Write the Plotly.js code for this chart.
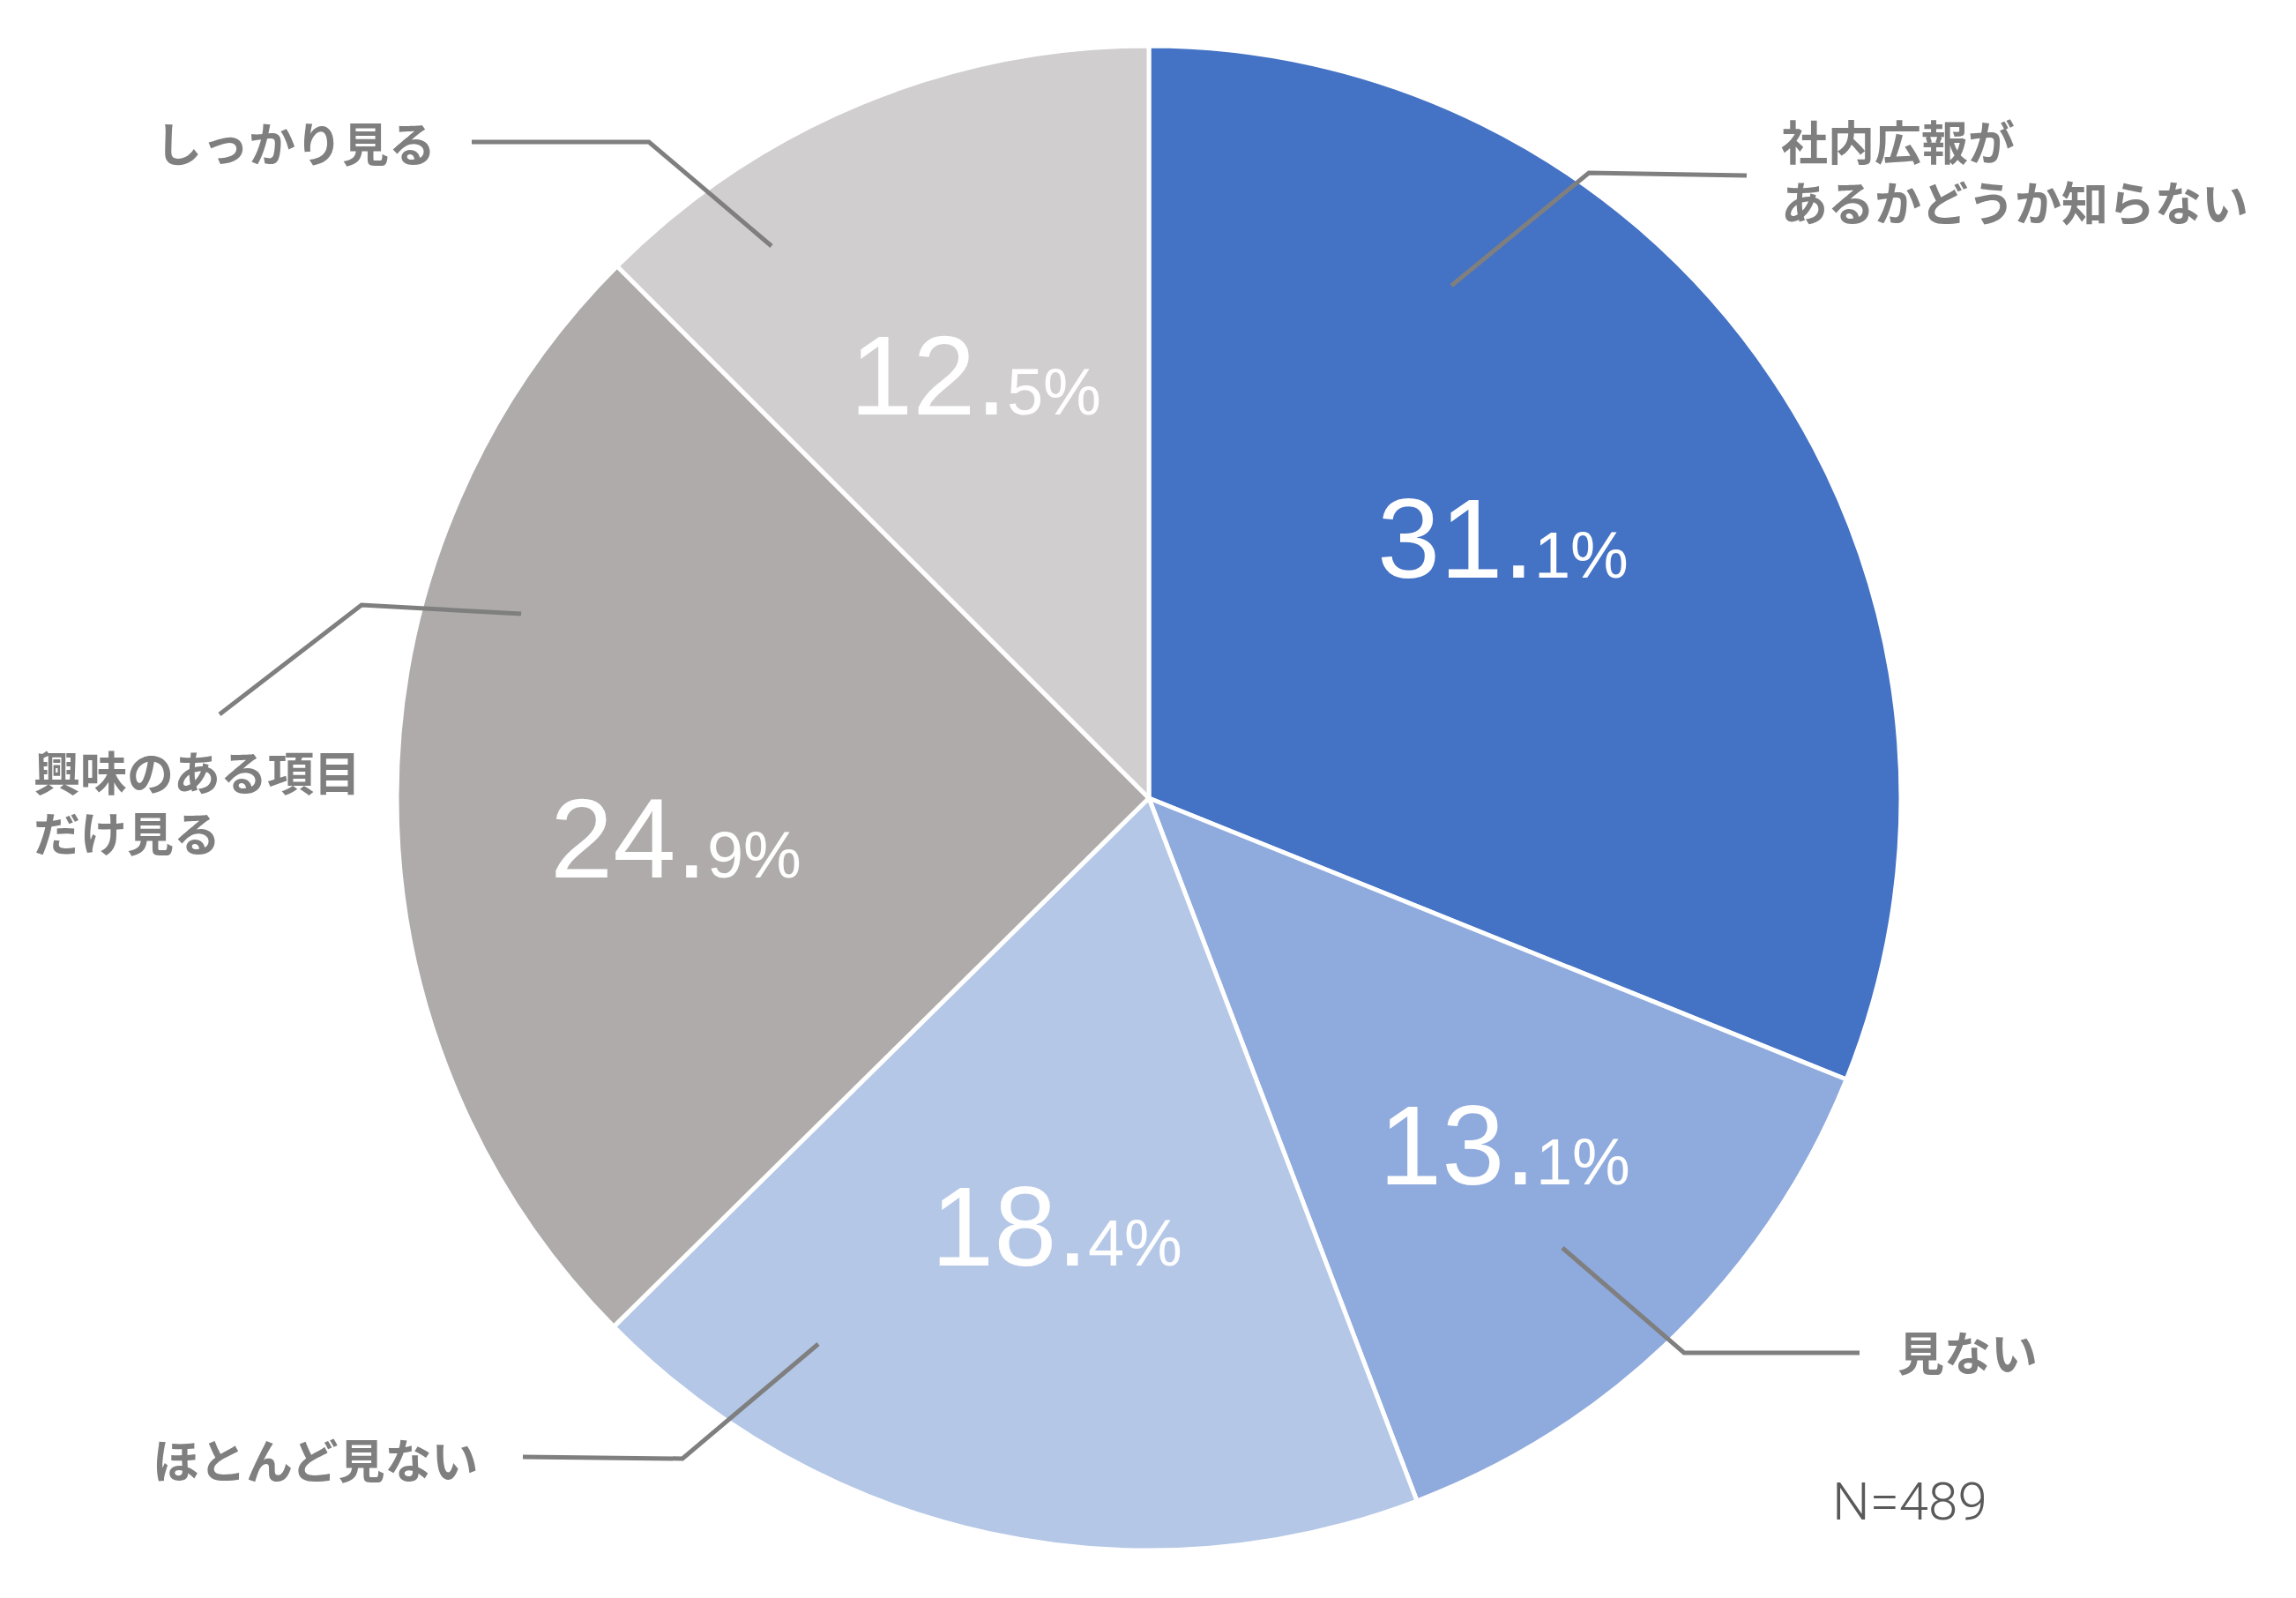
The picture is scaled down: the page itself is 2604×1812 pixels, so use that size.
<!DOCTYPE html>
<html>
<head>
<meta charset="utf-8">
<script src="https://cdn.plot.ly/plotly-3.0.1.min.js"></script>
<style>html,body{margin:0;padding:0;background:#fff;}#chart{width:2604px;height:1812px;}</style>
</head>
<body>
<div id="chart"></div>
<script>
// ---- data ----
const categories = ["社内広報が<br>あるかどうか知らない", "見ない", "ほとんど見ない", "興味のある項目<br>だけ見る", "しっかり見る"];
const values = [31.1, 13.1, 18.4, 24.9, 12.5];
const colors = ["#4472C4", "#8FAADC", "#B4C7E7", "#AFABAB", "#D0CECE"];
const sampleNote = "N=489";

// ---- layout helpers (pixel -> paper) ----
const W = 2604, H = 1812;
const px = x => x / W;
const py = y => 1 - y / H;

// pie geometry
const cx = 1303, cy = 905, R = 853;

// value label positions (pixels) and category label anchors
const valuePos = [[1704, 610], [1706, 1298], [1198, 1390], [766, 950], [1106, 426]];
const catPos = [[2018, 194], [2150, 1532], [171, 1654], [36, 908], [174, 161]];
const leaders = [
  [[1646, 324], [1802, 196], [1981, 199]],
  [[1772, 1415], [1910, 1534], [2109, 1534]],
  [[928, 1524], [774, 1654], [593, 1652]],
  [[591, 696], [410, 686], [249, 810]],
  [[875, 279], [736, 161], [535, 161]]
];

const annotations = [];
values.forEach((v, i) => {
  const parts = v.toFixed(1).split(".");
  annotations.push({
    xref: "paper", yref: "paper", x: px(valuePos[i][0]), y: py(valuePos[i][1]),
    xanchor: "center", yanchor: "middle", showarrow: false,
    text: parts[0] + '.<span style="font-size:74px">' + parts[1] + '%</span>',
    font: {family: "Liberation Sans, Arial, sans-serif", size: 128, color: "#FFFFFF"}
  });
  annotations.push({
    xref: "paper", yref: "paper", x: px(catPos[i][0]), y: py(catPos[i][1]),
    xanchor: "left", yanchor: "middle", align: "left", showarrow: false,
    text: categories[i],
    font: {family: "Noto Sans CJK JP, sans-serif", size: 53, color: "#7F7F7F", weight: 700}
  });
});
annotations.push({
  xref: "paper", yref: "paper", x: px(2076), y: py(1702),
  xanchor: "left", yanchor: "middle", showarrow: false,
  text: sampleNote,
  font: {family: "Roboto, Noto Sans, sans-serif", size: 60, color: "#595959", weight: 300}
});

const shapes = leaders.map(pts => ({
  type: "path", xref: "paper", yref: "paper",
  path: pts.map((p, k) => (k ? "L" : "M") + px(p[0]) + "," + py(p[1])).join(" "),
  line: {color: "#7F7F7F", width: 5}
}));

const trace = {
  type: "pie",
  labels: categories,
  values: values,
  sort: false,
  direction: "clockwise",
  rotation: 0,
  textinfo: "none",
  hoverinfo: "label+percent",
  marker: {colors: colors, line: {color: "#FFFFFF", width: 5}},
  domain: {x: [px(cx - R), px(cx + R)], y: [py(cy + R), py(cy - R)]},
  showlegend: false
};

Plotly.newPlot("chart", [trace], {
  width: W, height: H,
  margin: {l: 0, r: 0, t: 0, b: 0},
  paper_bgcolor: "#FFFFFF",
  showlegend: false,
  annotations: annotations,
  shapes: shapes
}, {staticPlot: true});
</script>
</body>
</html>
